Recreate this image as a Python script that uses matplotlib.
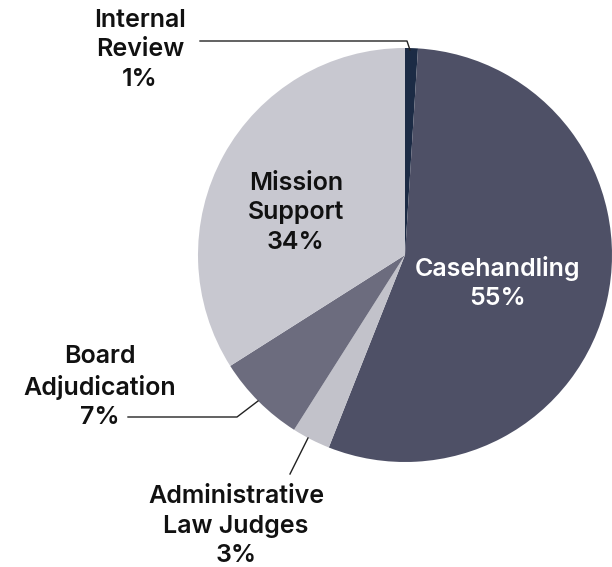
import matplotlib.pyplot as plt

# Budget share by program area
labels = ['Internal\nReview', 'Casehandling', 'Administrative\nLaw Judges', 'Board\nAdjudication', 'Mission\nSupport']
values = [1, 55, 3, 7, 34]
colors = ['#1c2b45', '#4e5066', '#c2c2ca', '#6c6c7e', '#c8c8d0']

W, H = 612, 567
fig = plt.figure(figsize=(W / 100, H / 100), dpi=100)
ax = fig.add_axes([0, 0, 1, 1])

cx, cy, r = 405, H - 255, 207
ax.pie(values, colors=colors, startangle=90, counterclock=False,
       center=(cx, cy), radius=r, frame=True,
       wedgeprops=dict(linewidth=0))
ax.set_xlim(0, W)
ax.set_ylim(0, H)
ax.set_aspect('equal')
ax.axis('off')

font = dict(family=['Inter', 'DejaVu Sans'], fontsize=18, fontweight='semibold',
            ha='center', va='center', linespacing=1.36)


def lbl(i, x, y, color='#111111'):
    ax.text(x, H - y, f"{labels[i]}\n{values[i]}%", color=color, **font)


lbl(0, 140, 50)
lbl(1, 498, 283, color='white')
lbl(2, 236, 526)
lbl(3, 100, 387)
lbl(4, 296, 213)

lc = dict(color='#222222', linewidth=1)
ax.plot([200, 407, 410], [H - 41, H - 41, H - 50], **lc)
ax.plot([128, 237, 258], [H - 417, H - 417, H - 401], **lc)
ax.plot([290, 308], [H - 474, H - 438], **lc)

fig.savefig('out.png', dpi=100)
